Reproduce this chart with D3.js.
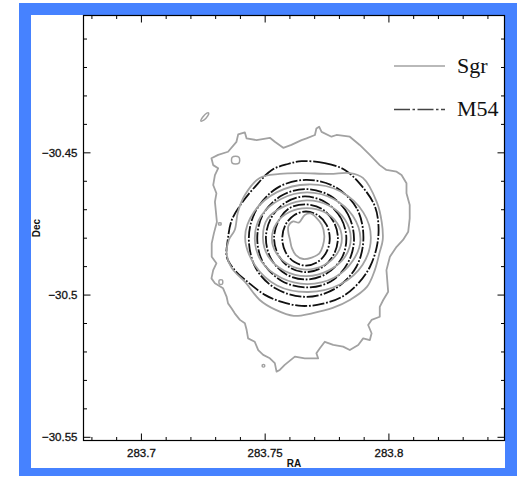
<!DOCTYPE html>
<html>
<head>
<meta charset="utf-8">
<script src="https://cdn.jsdelivr.net/npm/d3@7"></script>
<style>
  body { margin: 0; background: #ffffff; }
  svg { display: block; }
</style>
</head>
<body>
<svg id="chart" width="530" height="479"></svg>
<script>
// ---- Axis ticks -------------------------------------------------------
const raMajor = [283.7, 283.75, 283.8];
const raLabels = ["283.7", "283.75", "283.8"];
const raMinor = [283.68, 283.69, 283.71, 283.72, 283.73, 283.74, 283.76, 283.77,
                 283.78, 283.79, 283.81, 283.82, 283.83, 283.84];
const decMajor = [-30.45, -30.5, -30.55];
const decLabels = ["\u221230.45", "\u221230.5", "\u221230.55"];
const decMinor = [-30.54, -30.53, -30.52, -30.51, -30.49, -30.48, -30.47, -30.46,
                  -30.44, -30.43, -30.42, -30.41];

// ---- Sgr density contours, [RA, Dec] ------------------------------------
const sgrLevel1 = [
  [283.7393,-30.4437],[283.7420,-30.4430],[283.7427,-30.4451],[283.7467,-30.4457],
  [283.7521,-30.4449],[283.7541,-30.4463],[283.7575,-30.4484],[283.7608,-30.4474],
  [283.7649,-30.4457],[283.7669,-30.4451],[283.7703,-30.4439],[283.7709,-30.4416],
  [283.7720,-30.4410],[283.7730,-30.4428],[283.7770,-30.4445],[283.7790,-30.4439],
  [283.7844,-30.4445],[283.7884,-30.4474],[283.7925,-30.4509],[283.7965,-30.4545],
  [283.7992,-30.4562],[283.8033,-30.4568],[283.8053,-30.4580],[283.8073,-30.4609],
  [283.8073,-30.4644],[283.8086,-30.4685],[283.8086,-30.4732],[283.8080,-30.4779],
  [283.8059,-30.4808],[283.8033,-30.4832],[283.8006,-30.4867],[283.7992,-30.4914],
  [283.7999,-30.4990],[283.7979,-30.5019],[283.7965,-30.5043],[283.7965,-30.5078],
  [283.7932,-30.5089],[283.7918,-30.5107],[283.7932,-30.5136],[283.7925,-30.5160],
  [283.7898,-30.5154],[283.7878,-30.5177],[283.7844,-30.5195],[283.7817,-30.5183],
  [283.7777,-30.5177],[283.7743,-30.5166],[283.7723,-30.5189],[283.7709,-30.5206],
  [283.7716,-30.5224],[283.7689,-30.5224],[283.7662,-30.5224],[283.7622,-30.5218],
  [283.7581,-30.5247],[283.7561,-30.5265],[283.7548,-30.5271],[283.7541,-30.5241],
  [283.7521,-30.5224],[283.7494,-30.5212],[283.7474,-30.5195],[283.7460,-30.5166],
  [283.7433,-30.5154],[283.7427,-30.5124],[283.7420,-30.5101],[283.7400,-30.5089],
  [283.7379,-30.5066],[283.7366,-30.5048],[283.7352,-30.5031],[283.7346,-30.5007],
  [283.7332,-30.4978],[283.7299,-30.4960],[283.7285,-30.4943],[283.7292,-30.4914],
  [283.7305,-30.4890],[283.7286,-30.4867],[283.7286,-30.4820],[283.7295,-30.4784],
  [283.7307,-30.4745],[283.7303,-30.4709],[283.7299,-30.4674],[283.7305,-30.4644],
  [283.7292,-30.4615],[283.7299,-30.4580],[283.7312,-30.4556],[283.7292,-30.4545],
  [283.7285,-30.4521],[283.7312,-30.4509],[283.7352,-30.4498],[283.7386,-30.4463]
];
// small isolated islands at the lowest Sgr level
const sgrIslands = [
  [[283.7242,-30.4390],[283.7250,-30.4376],[283.7266,-30.4362],[283.7274,-30.4362],
   [283.7270,-30.4372],[283.7254,-30.4387]],
  [[283.7369,-30.4517],[283.7396,-30.4517],[283.7396,-30.4538],[283.7369,-30.4538]],
  [[283.7315,-30.4748],[283.7323,-30.4748],[283.7323,-30.4755],[283.7315,-30.4755]],
  [[283.7317,-30.4949],[283.7329,-30.4949],[283.7329,-30.4963],[283.7317,-30.4963]],
  [[283.7491,-30.5247],[283.7499,-30.5247],[283.7499,-30.5254],[283.7491,-30.5254]]
];
const sgrLevel2 = [
  [283.7642,-30.4573],[283.7763,-30.4576],[283.7844,-30.4573],[283.7897,-30.4590],
  [283.7953,-30.4675],[283.7973,-30.4745],[283.7977,-30.4808],[283.7965,-30.4850],
  [283.7945,-30.4914],[283.7913,-30.4973],[283.7844,-30.5019],[283.7775,-30.5047],
  [283.7695,-30.5065],[283.7618,-30.5075],[283.7545,-30.5054],[283.7480,-30.5019],
  [283.7424,-30.4959],[283.7367,-30.4907],[283.7347,-30.4861],[283.7355,-30.4808],
  [283.7379,-30.4773],[283.7392,-30.4710],[283.7420,-30.4650],[283.7480,-30.4590],
  [283.7561,-30.4576]
];
const sgrLevel3 = [
  [283.7929,-30.4801],[283.7899,-30.4712],[283.7803,-30.4636],[283.7676,-30.4613],
  [283.7550,-30.4640],[283.7458,-30.4708],[283.7421,-30.4798],[283.7460,-30.4896],
  [283.7550,-30.4968],[283.7676,-30.4991],[283.7806,-30.4964],[283.7895,-30.4896]
];
const sgrLevel4 = [
  [283.7887,-30.4808],[283.7856,-30.4723],[283.7778,-30.4664],[283.7672,-30.4641],
  [283.7566,-30.4664],[283.7486,-30.4723],[283.7460,-30.4803],[283.7488,-30.4885],
  [283.7566,-30.4941],[283.7672,-30.4963],[283.7780,-30.4941],[283.7856,-30.4881]
];
const sgrLevel5 = [
  [283.7848,-30.4802],[283.7824,-30.4736],[283.7759,-30.4687],[283.7670,-30.4669],
  [283.7581,-30.4689],[283.7512,-30.4733],[283.7493,-30.4802],[283.7516,-30.4868],
  [283.7581,-30.4917],[283.7670,-30.4935],[283.7759,-30.4915],[283.7824,-30.4868]
];
const sgrLevel6 = [
  [283.7812,-30.4803],[283.7793,-30.4749],[283.7741,-30.4710],[283.7670,-30.4696],
  [283.7600,-30.4710],[283.7548,-30.4749],[283.7529,-30.4803],[283.7548,-30.4856],
  [283.7600,-30.4896],[283.7666,-30.4912],[283.7741,-30.4896],[283.7793,-30.4856]
];
const sgrLevel7 = [
  [283.7596,-30.4759],[283.7615,-30.4743],[283.7638,-30.4747],[283.7662,-30.4720],
  [283.7686,-30.4715],[283.7711,-30.4732],[283.7731,-30.4755],[283.7741,-30.4794],
  [283.7735,-30.4829],[283.7721,-30.4855],[283.7690,-30.4870],[283.7656,-30.4875],
  [283.7626,-30.4861],[283.7610,-30.4837],[283.7602,-30.4806],[283.7596,-30.4784]
];

// ---- M54 density contours, [RA, Dec] ------------------------------------
const m54Level1 = [
  [283.7650,-30.4531],[283.7743,-30.4538],[283.7824,-30.4562],[283.7892,-30.4618],
  [283.7945,-30.4689],[283.7960,-30.4761],[283.7953,-30.4832],[283.7925,-30.4903],
  [283.7880,-30.4959],[283.7812,-30.5008],[283.7731,-30.5033],[283.7650,-30.5040],
  [283.7569,-30.5026],[283.7501,-30.5001],[283.7436,-30.4959],[283.7379,-30.4914],
  [283.7347,-30.4868],[283.7351,-30.4808],[283.7367,-30.4738],[283.7408,-30.4678],
  [283.7460,-30.4622],[283.7529,-30.4562],[283.7594,-30.4541]
];
const m54Level2 = [
  [283.7899,-30.4801],[283.7872,-30.4697],[283.7783,-30.4621],[283.7666,-30.4597],
  [283.7551,-30.4625],[283.7464,-30.4706],[283.7436,-30.4801],[283.7464,-30.4907],
  [283.7545,-30.4979],[283.7666,-30.5008],[283.7783,-30.4980],[283.7870,-30.4903]
];
const m54Level3 = [
  [283.7861,-30.4806],[283.7836,-30.4717],[283.7767,-30.4654],[283.7666,-30.4629],
  [283.7569,-30.4652],[283.7494,-30.4717],[283.7470,-30.4801],[283.7493,-30.4886],
  [283.7569,-30.4952],[283.7666,-30.4975],[283.7767,-30.4954],[283.7836,-30.4889]
];
const m54Level4 = [
  [283.7830,-30.4801],[283.7808,-30.4731],[283.7747,-30.4676],[283.7662,-30.4655],
  [283.7585,-30.4676],[283.7526,-30.4731],[283.7505,-30.4801],[283.7526,-30.4875],
  [283.7585,-30.4928],[283.7666,-30.4947],[283.7747,-30.4928],[283.7811,-30.4872]
];
const m54Level5 = [
  [283.7796,-30.4801],[283.7778,-30.4743],[283.7731,-30.4699],[283.7666,-30.4683],
  [283.7599,-30.4697],[283.7555,-30.4743],[283.7538,-30.4801],[283.7555,-30.4861],
  [283.7602,-30.4905],[283.7666,-30.4921],[283.7731,-30.4905],[283.7778,-30.4861]
];
const m54Level6 = [
  [283.7763,-30.4803],[283.7750,-30.4755],[283.7715,-30.4721],[283.7667,-30.4708],
  [283.7619,-30.4721],[283.7584,-30.4755],[283.7571,-30.4803],[283.7584,-30.4850],
  [283.7619,-30.4885],[283.7667,-30.4898],[283.7715,-30.4885],[283.7750,-30.4850]
];

const sgrRings = [sgrLevel2, sgrLevel3, sgrLevel4, sgrLevel5, sgrLevel6, sgrLevel7];
const m54Rings = [m54Level1, m54Level2, m54Level3, m54Level4, m54Level5, m54Level6];

// ---- Layout -----------------------------------------------------------
const W = 530, H = 479;
const plot = { left: 83.5, right: 504.5, top: 15.5, bottom: 440.5 };
const SGR_COLOR = "#a2a2a2";
const M54_COLOR = "#111111";
const M54_DASH = "12,1.8,1.8,1.8";
const LEGEND_DASH = "16,2.5,2.5,2.5";
const SANS = "'Liberation Sans', Arial, Helvetica, sans-serif";

const svg = d3.select("#chart");

// framed page background
svg.append("rect").attr("x", 0).attr("y", 0).attr("width", W).attr("height", H).attr("fill", "#ffffff");
svg.append("rect").attr("x", 19).attr("y", 3).attr("width", 498).attr("height", 473).attr("fill", "#4682ff");
svg.append("rect").attr("x", 31).attr("y", 15).attr("width", 474).attr("height", 453).attr("fill", "#ffffff");

const x = d3.scaleLinear().domain([283.6768, 283.8469]).range([plot.left, plot.right]);
const y = d3.scaleLinear().domain([-30.5513, -30.4019]).range([plot.bottom, plot.top]);

svg.append("defs").append("clipPath").attr("id", "plotClip")
  .append("rect")
  .attr("x", plot.left).attr("y", plot.top)
  .attr("width", plot.right - plot.left).attr("height", plot.bottom - plot.top);

const g = svg.append("g").attr("clip-path", "url(#plotClip)");

const smooth = d3.line().x(d => x(d[0])).y(d => y(d[1])).curve(d3.curveCatmullRomClosed.alpha(0.5));
const rough = d3.line().x(d => x(d[0])).y(d => y(d[1])).curve(d3.curveLinearClosed);

// Sgr: outermost level and islands
g.append("path").attr("d", rough(sgrLevel1))
  .attr("fill", "none").attr("stroke", SGR_COLOR).attr("stroke-width", 1.8).attr("stroke-linejoin", "round");
g.selectAll("path.island").data(sgrIslands).join("path").attr("class", "island")
  .attr("d", d => smooth(d))
  .attr("fill", "none").attr("stroke", SGR_COLOR).attr("stroke-width", 1.5);

// M54 rings (dash-dot)
g.selectAll("path.m54").data(m54Rings).join("path").attr("class", "m54")
  .attr("d", d => smooth(d))
  .attr("fill", "none").attr("stroke", M54_COLOR).attr("stroke-width", 1.8)
  .attr("stroke-dasharray", M54_DASH);

// Sgr inner rings
g.selectAll("path.sgr").data(sgrRings).join("path").attr("class", "sgr")
  .attr("d", d => smooth(d))
  .attr("fill", "none").attr("stroke", SGR_COLOR).attr("stroke-width", 1.8);

// ---- Axes (ticks inward on all four sides) -----------------------------
function styleAxis(sel) {
  sel.select(".domain").remove();
  sel.selectAll(".tick line").attr("stroke", "#000").attr("stroke-width", 1);
  sel.selectAll("text").attr("fill", "#111").attr("stroke", "#111").attr("stroke-width", 0.3)
    .style("font-family", SANS).style("font-size", "11.5px");
}

svg.append("g").attr("transform", `translate(0,${plot.bottom})`)
  .call(d3.axisBottom(x).tickValues(raMajor).tickSize(-7).tickPadding(8.5)
    .tickFormat((d, i) => raLabels[i]))
  .call(styleAxis);
svg.append("g").attr("transform", `translate(0,${plot.bottom})`)
  .call(d3.axisBottom(x).tickValues(raMinor).tickSize(-3.5).tickFormat(""))
  .call(styleAxis);
svg.append("g").attr("transform", `translate(0,${plot.top})`)
  .call(d3.axisTop(x).tickValues(raMajor).tickSize(-7).tickFormat(""))
  .call(styleAxis);
svg.append("g").attr("transform", `translate(0,${plot.top})`)
  .call(d3.axisTop(x).tickValues(raMinor).tickSize(-3.5).tickFormat(""))
  .call(styleAxis);

svg.append("g").attr("transform", `translate(${plot.left},0)`)
  .call(d3.axisLeft(y).tickValues(decMajor).tickSize(-7).tickPadding(6)
    .tickFormat((d, i) => decLabels[i]))
  .call(styleAxis);
svg.append("g").attr("transform", `translate(${plot.left},0)`)
  .call(d3.axisLeft(y).tickValues(decMinor).tickSize(-3.5).tickFormat(""))
  .call(styleAxis);
svg.append("g").attr("transform", `translate(${plot.right},0)`)
  .call(d3.axisRight(y).tickValues(decMajor).tickSize(-7).tickFormat(""))
  .call(styleAxis);
svg.append("g").attr("transform", `translate(${plot.right},0)`)
  .call(d3.axisRight(y).tickValues(decMinor).tickSize(-3.5).tickFormat(""))
  .call(styleAxis);

// plot frame
svg.append("rect")
  .attr("x", plot.left).attr("y", plot.top)
  .attr("width", plot.right - plot.left).attr("height", plot.bottom - plot.top)
  .attr("fill", "none").attr("stroke", "#000").attr("stroke-width", 1.2);

// axis titles
svg.append("text").text("RA")
  .attr("x", (plot.left + plot.right) / 2).attr("y", 467)
  .attr("text-anchor", "middle")
  .style("font-family", SANS).style("font-size", "10px")
  .style("font-weight", "bold").attr("fill", "#111");
svg.append("text").text("Dec")
  .attr("transform", `translate(40,${(plot.top + plot.bottom) / 2}) rotate(-90)`)
  .attr("text-anchor", "middle")
  .style("font-family", SANS).style("font-size", "10px")
  .style("font-weight", "bold").attr("fill", "#111");

// ---- Legend -----------------------------------------------------------
const legendItems = [
  { label: "Sgr", color: SGR_COLOR, dash: null, width: 1.4, y: 66 },
  { label: "M54", color: "#444", dash: LEGEND_DASH, width: 1.6, y: 109.5 }
];
const leg = svg.append("g");
legendItems.forEach(it => {
  leg.append("line")
    .attr("x1", 394).attr("x2", 445).attr("y1", it.y).attr("y2", it.y)
    .attr("stroke", it.color).attr("stroke-width", it.width)
    .attr("stroke-dasharray", it.dash);
  leg.append("text").text(it.label)
    .attr("x", 457).attr("y", it.y + 6.5)
    .style("font-family", "'Liberation Serif', 'Times New Roman', serif")
    .style("font-size", "22px").attr("fill", "#111");
});
</script>
</body>
</html>
